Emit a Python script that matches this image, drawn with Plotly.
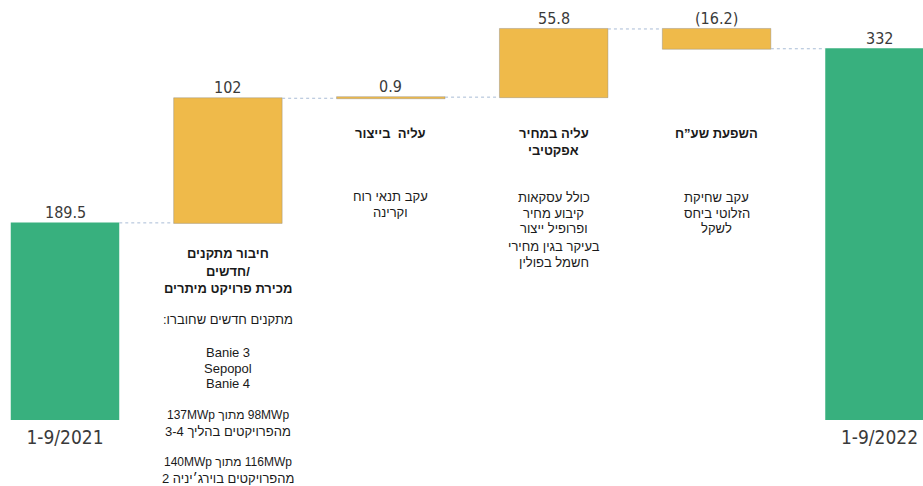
import plotly.graph_objects as go

# ---- data ----
categories = ["1-9/2021", "חיבור מתקנים", "עליה בייצור", "עליה במחיר", "השפעת שע״ח", "1-9/2022"]
measures = ["absolute", "relative", "relative", "relative", "relative", "total"]
values = [189.5, 102, 0.9, 55.8, -16.2, 332]
value_labels = ["189.5", "102", "0.9", "55.8", "(16.2)", "332"]
period_labels = ["1-9/2021", "1-9/2022"]

titles = [
    None,
    ["חיבור מתקנים", "/חדשים", "מכירת פרויקט מיתרים"],
    ["עליה  בייצור"],
    ["עליה במחיר", "אפקטיבי"],
    ["השפעת שע”ח"],
    None,
]
notes = [
    None,
    ["מתקנים חדשים שחוברו:", "Banie 3", "Sepopol", "Banie 4",
     "98MWp מתוך 137MWp", "מהפרויקטים בהליך 3-4",
     "116MWp מתוך 140MWp", "מהפרויקטים בוירג׳יניה 2"],
    ["עקב תנאי רוח", "וקרינה"],
    ["כולל עסקאות", "קיבוע מחיר", "ופרופיל ייצור", "בעיקר בגין מחירי", "חשמל בפולין"],
    ["עקב שחיקת", "הזלוטי ביחס", "לשקל"],
    None,
]
# line-centre pixel rows (layout only)
title_rows = [None, [254, 271, 288], [133], [133, 150], [133], None]
note_rows = [None, [319, 352, 368, 383, 415, 432, 462, 478],
             [196, 212], [197, 213, 229, 246, 262], [197, 213, 229], None]

GREEN = "#38B07E"
YELLOW = "#EFBA4A"
PLOT_H = 420
NUM_FONT = "DejaVu Sans Condensed, DejaVu Sans, Roboto, sans-serif"
HEB_FONT = "Liberation Sans, Arial, DejaVu Sans, sans-serif"
RTL_OPEN, RTL_CLOSE = "\u200f\u202b", "\u202c"

fig = go.Figure(go.Waterfall(
    x=categories,
    y=values,
    measure=measures,
    increasing=dict(marker=dict(color=YELLOW, line=dict(color="rgba(130,130,130,0.55)", width=0.7))),
    decreasing=dict(marker=dict(color=YELLOW, line=dict(color="rgba(130,130,130,0.55)", width=0.7))),
    totals=dict(marker=dict(color=GREEN, line=dict(color=GREEN, width=0))),
    connector=dict(mode="between", line=dict(color="#A9BCD6", width=1, dash="dot")),
    textposition="none",
    hoverinfo="skip",
))

annotations = []
level = 0.0
for cat, m, v, lab in zip(categories, measures, values, value_labels):
    if m in ("absolute", "total"):
        start, end = 0.0, v
    else:
        start, end = level, level + v
    level = end
    annotations.append(dict(
        x=cat, y=max(start, end), xref="x", yref="y", text=lab, showarrow=False,
        yanchor="bottom", yshift=-1, font=dict(family=NUM_FONT, size=16, color="#3a3a3a"),
    ))


def px_to_paper(p):
    return 1 - p / PLOT_H


def is_latin(s):
    return all(ord(c) < 0x590 for c in s)


def is_mixed(s):
    return (not is_latin(s)) and any("A" <= c <= "Z" or "a" <= c <= "z" for c in s)


for i, cat in enumerate(categories):
    for rows, lines, bold in ((title_rows[i], titles[i], True),
                              (note_rows[i], notes[i], False)):
        if not lines:
            continue
        for r, t in zip(rows, lines):
            size = 13
            if is_mixed(t):
                size = 12
            txt = t if is_latin(t) else RTL_OPEN + t + RTL_CLOSE
            if bold:
                txt = "<b>%s</b>" % txt
            annotations.append(dict(
                x=cat, xref="x", yref="paper", y=px_to_paper(r),
                yanchor="middle", showarrow=False, borderpad=0,
                text=txt, font=dict(family=HEB_FONT, size=size, color="#1a1a1a"),
            ))

spacing = 162.9
x0 = 65
fig.update_layout(
    width=923, height=486,
    margin=dict(l=0, r=0, t=0, b=486 - PLOT_H),
    paper_bgcolor="white", plot_bgcolor="white",
    showlegend=False,
    waterfallgap=1 - 108.5 / spacing,
    annotations=annotations,
    xaxis=dict(
        type="category",
        range=[-x0 / spacing, (923 - x0) / spacing],
        tickvals=[categories[0], categories[-1]],
        ticktext=period_labels,
        tickfont=dict(family=NUM_FONT, size=19, color="#3a3a3a"),
        showgrid=False, zeroline=False, showline=False, ticks="",
        ticklabelstandoff=4,
    ),
    yaxis=dict(range=[28.2, 371.9], visible=False, showgrid=False),
)

fig.write_html(
    "out.html",
    config={"displayModeBar": False},
    post_script="document.body.style.margin='0';document.body.style.padding='0';"
                "document.documentElement.style.overflow='hidden';",
)
